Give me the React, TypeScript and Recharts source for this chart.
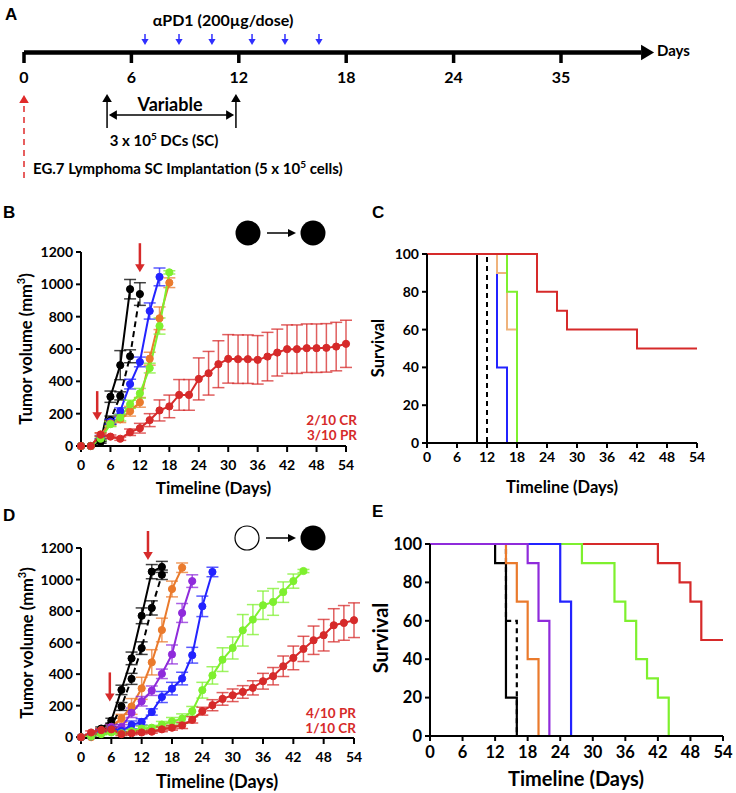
import React from 'react';
import { LineChart, Line, XAxis, YAxis, ErrorBar, ReferenceLine, ReferenceDot } from 'recharts';

const FONT = 'Lato, "Open Sans", sans-serif';
const LETTER_FONT = '"Liberation Sans", Arial, sans-serif';

const BLACK = '#000000';
const BLUE = '#2323ff';
const ORANGE = '#ea7a2c';
const TAN = '#efb37c';
const GREEN = '#7ef02e';
const RED = '#d62a2a';
const PURPLE = '#8f2bdb';
const PD1_BLUE = '#2f2fff';

// ---- A: schedule ----
const scheduleTicks = [0, 6, 12, 18, 24, 30];
const scheduleLabels = ['0', '6', '12', '18', '24', '35'];
const pd1Days = [6.76, 8.66, 10.5, 12.74, 14.58, 16.48];
const dcDays = [4.64, 11.84];
const timelineDays = [0, 34.47];

// ---- shared axes ----
const dayTicks = [0, 6, 12, 18, 24, 30, 36, 42, 48, 54];
const volumeTicks = [0, 200, 400, 600, 800, 1000, 1200];
const survivalTicks = [0, 20, 40, 60, 80, 100];
const days = [0, 2, 4, 6, 8, 10, 12, 14, 16, 18, 20, 22, 24, 26, 28, 30, 32, 34, 36, 38, 40, 42, 44, 46, 48, 50, 52, 54];

// ---- B: tumor volume ----
const bBlack = [0, 0, 25, 305, 500, 970];
const bBlackErr = [0, 0, 8, 35, 90, 60];
const bDash = [0, 0, 35, 160, 310, 555, 940];
const bDashErr = [0, 0, 8, 25, 25, 40, 70];
const bBlue = [0, 0, 55, 150, 216, 383, 520, 835, 1046];
const bBlueErr = [0, 0, 10, 15, 20, 30, 30, 50, 55];
const bOrange = [0, 0, 72, 140, 165, 215, 270, 540, 790, 1010];
const bOrangeErr = [0, 0, 10, 15, 20, 30, 30, 40, 70, 30];
const bGreen = [0, 0, 45, 135, 175, 258, 326, 482, 742, 1074];
const bGreenErr = [0, 0, 10, 15, 20, 25, 30, 30, 50, 10];
const bRed = [0, 0, 70, 58, 45, 85, 110, 160, 220, 245, 316, 316, 415, 450, 506, 539, 537, 537, 533, 553, 578, 599, 599, 605, 605, 607, 615, 632];
const bRedErr = [0, 0, 10, 10, 10, 20, 30, 40, 65, 70, 95, 95, 130, 135, 145, 150, 150, 150, 150, 150, 145, 150, 150, 150, 150, 150, 150, 146];
const bArrows = [[3.3, 160], [12, 1075]];

// ---- C: survival ----
const cBlackDays = [0, 10];
const cBlackSurv = [100, 0];
const cDashDays = [0, 12];
const cDashSurv = [100, 0];
const cBlueDays = [0, 14, 16];
const cBlueSurv = [100, 40, 0];
const cTanDays = [0, 14, 16, 18];
const cTanSurv = [100, 90, 60, 0];
const cGreenDays = [0, 16, 18];
const cGreenSurv = [100, 80, 0];
const cRedDays = [0, 22, 26, 28, 42, 54];
const cRedSurv = [100, 80, 70, 60, 50, 50];

// ---- D: tumor volume ----
const dBlack = [0, 10, 55, 105, 300, 500, 770, 1050, 1080];
const dBlackErr = [0, 5, 10, 15, 30, 40, 50, 45, 35];
const dDash = [0, 5, 40, 70, 195, 370, 565, 820, 1030];
const dDashErr = [0, 5, 10, 15, 25, 35, 40, 45, 30];
const dOrange = [0, 0, 45, 65, 120, 195, 310, 475, 680, 940, 1075];
const dOrangeErr = [0, 5, 10, 15, 25, 50, 70, 80, 75, 50, 30];
const dPurple = [0, 10, 40, 65, 65, 155, 228, 295, 402, 525, 788, 990];
const dPurpleErr = [0, 5, 10, 15, 15, 30, 30, 30, 30, 60, 60, 40];
const dBlue = [0, 5, 30, 50, 40, 78, 97, 160, 255, 308, 372, 520, 830, 1048];
const dBlueErr = [0, 5, 10, 10, 10, 25, 20, 20, 35, 40, 40, 50, 65, 30];
const dGreen = [0, 5, 20, 30, 25, 38, 55, 60, 80, 100, 118, 165, 298, 392, 492, 566, 678, 746, 837, 858, 920, 990, 1054];
const dGreenErr = [0, 5, 5, 10, 10, 10, 15, 15, 20, 25, 30, 30, 50, 55, 75, 70, 100, 95, 90, 85, 65, 45, 10];
const dRed = [0, 30, 45, 50, 20, 25, 30, 35, 50, 60, 75, 110, 165, 203, 243, 266, 287, 313, 355, 387, 450, 503, 560, 615, 647, 710, 725, 742];
const dRedErr = [0, 10, 10, 10, 10, 10, 10, 10, 15, 15, 20, 20, 25, 35, 40, 40, 40, 45, 50, 55, 65, 75, 80, 90, 100, 105, 110, 110];
const dArrows = [[5.7, 227], [13.25, 1124]];

// ---- E: survival ----
const eBlackDays = [0, 12, 14, 16];
const eBlackSurv = [100, 90, 20, 0];
const eDashDays = [0, 14, 16];
const eDashSurv = [100, 60, 0];
const eOrangeDays = [0, 14, 16, 18, 20];
const eOrangeSurv = [100, 90, 70, 40, 0];
const ePurpleDays = [0, 18, 20, 22];
const ePurpleSurv = [100, 90, 60, 0];
const eBlueDays = [0, 24, 26];
const eBlueSurv = [100, 70, 0];
const eGreenDays = [0, 28, 34, 36, 38, 40, 42, 44];
const eGreenSurv = [100, 90, 70, 60, 40, 30, 20, 0];
const eRedDays = [0, 42, 46, 48, 50, 54];
const eRedSurv = [100, 90, 80, 70, 50, 50];

const toPoints = (x: number[], y: number[], err?: number[]) =>
  y.map((v, i) => ({ d: x[i], v, e: err ? err[i] : 0 }));

type Growth = { vals: number[]; errs: number[]; color: string; dashed?: boolean };
type Step = { x: number[]; y: number[]; color: string; dashed?: boolean };

function arrowShape(dir: string, len: number, color: string, w = 2, head = 7, dash?: string) {
  return (p: any) => {
    const { cx, cy } = p;
    const hw = head * 0.6;
    let l = [0, 0, 0, 0];
    let tri = '';
    if (dir === 'down') {
      l = [cx, cy - len, cx, cy - head + 1];
      tri = `${cx - hw},${cy - head} ${cx + hw},${cy - head} ${cx},${cy}`;
    } else if (dir === 'up') {
      l = [cx, cy + len, cx, cy + head - 1];
      tri = `${cx - hw},${cy + head} ${cx + hw},${cy + head} ${cx},${cy}`;
    } else if (dir === 'right') {
      l = [cx - len, cy, cx - head + 1, cy];
      tri = `${cx - head},${cy - hw} ${cx - head},${cy + hw} ${cx},${cy}`;
    } else {
      l = [cx + len, cy, cx + head - 1, cy];
      tri = `${cx + head},${cy - hw} ${cx + head},${cy + hw} ${cx},${cy}`;
    }
    return (
      <g>
        {len > head && <line x1={l[0]} y1={l[1]} x2={l[2]} y2={l[3]} stroke={color} strokeWidth={w} strokeDasharray={dash} />}
        <polygon points={tri} fill={color} />
      </g>
    );
  };
}

const axisStyle = { stroke: '#000', strokeWidth: 2 };
const tickFont = (size: number) => ({ fontFamily: FONT, fontWeight: 700, fontSize: size, fill: '#000' });

function ScheduleChart() {
  const label = (t: string) => (p: any) => (
    <text x={p.cx} y={p.cy} textAnchor="middle" fontFamily={FONT} fontWeight={700} fontSize={16} fill="#000">{t}</text>
  );
  const lineY = 52.5;
  return (
    <div style={{ position: 'absolute', left: 0, top: 0 }}>
      <LineChart width={736} height={195} margin={{ top: 0, right: 67.6, bottom: 0, left: 24 }}>
        <XAxis type="number" dataKey="d" domain={[0, 36]} hide height={0} />
        <YAxis type="number" domain={[0, 195]} reversed hide width={0} />
        <Line data={timelineDays.map((d) => ({ d, v: lineY }))} dataKey="v" stroke="#000" strokeWidth={4.5}
          dot={false} activeDot={false} isAnimationActive={false} />
        <ReferenceDot x={35.2} y={lineY} r={0} ifOverflow="visible" shape={arrowShape('right', 0, '#000', 0, 13)} />
        {scheduleTicks.map((t) => (
          <ReferenceLine key={'t' + t} segment={[{ x: t, y: 52 }, { x: t, y: 63 }]} stroke="#000" strokeWidth={3.5} />
        ))}
        {scheduleTicks.map((t, i) => (
          <ReferenceDot key={'l' + t} x={t} y={83} r={0} shape={label(scheduleLabels[i])} />
        ))}
        {pd1Days.map((d) => (
          <ReferenceDot key={'p' + d} x={d} y={45} r={0} shape={arrowShape('down', 11, PD1_BLUE, 1.5, 6)} />
        ))}
        <ReferenceDot x={0} y={95} r={0} ifOverflow="visible" shape={arrowShape('up', 83, '#e02a2a', 1.5, 8, '6 5')} />
        {dcDays.map((d) => (
          <ReferenceDot key={'dc' + d} x={d} y={94} r={0} shape={arrowShape('up', 34, '#000', 1.5, 8)} />
        ))}
        <ReferenceLine segment={[{ x: dcDays[0] + 0.2, y: 115 }, { x: dcDays[1] - 0.2, y: 115 }]} stroke="#000" strokeWidth={1.5} />
        <ReferenceDot x={dcDays[0] + 0.1} y={115} r={0} shape={arrowShape('left', 0, '#000', 0, 8)} />
        <ReferenceDot x={dcDays[1] - 0.1} y={115} r={0} shape={arrowShape('right', 0, '#000', 0, 8)} />
      </LineChart>
    </div>
  );
}

function GrowthChart(props: {
  box: number[]; margin: any; yWidth: number; xHeight: number; series: Growth[];
  arrows: number[][]; font: number; xMargin: number;
}) {
  const { box, margin, yWidth, xHeight, series, arrows, font, xMargin } = props;
  return (
    <div style={{ position: 'absolute', left: box[0], top: box[1] }}>
      <LineChart width={box[2]} height={box[3]} margin={margin}>
        <XAxis type="number" dataKey="d" domain={[0, 54]} ticks={dayTicks} interval={0} height={xHeight}
          tickSize={6} tickMargin={xMargin} axisLine={axisStyle} tickLine={axisStyle} tick={tickFont(font)} />
        <YAxis type="number" domain={[0, 1200]} ticks={volumeTicks} interval={0} width={yWidth}
          tickSize={5} tickMargin={3} axisLine={axisStyle} tickLine={axisStyle} tick={tickFont(font)} />
        {series.map((s, i) => (
          <Line key={i} data={toPoints(days, s.vals, s.errs)} dataKey="v" stroke={s.color} strokeWidth={2}
            strokeDasharray={s.dashed ? '6 4' : undefined}
            dot={{ r: 3.6, fill: s.color, stroke: s.color, strokeWidth: 1, strokeDasharray: '0' }}
            activeDot={false} isAnimationActive={false}>
            <ErrorBar dataKey="e" direction="y" width={6} stroke={s.color} strokeWidth={1.5} strokeOpacity={0.75} />
          </Line>
        ))}
        {arrows.map((a, i) => (
          <ReferenceDot key={'a' + i} x={a[0]} y={a[1]} r={0} ifOverflow="visible"
            shape={arrowShape('down', 29, RED, 2.5, 8)} />
        ))}
      </LineChart>
    </div>
  );
}

function SurvivalChart(props: {
  box: number[]; margin: any; yWidth: number; xHeight: number; series: Step[];
  font: number; xMargin: number; lineWidth: number;
}) {
  const { box, margin, yWidth, xHeight, series, font, xMargin, lineWidth } = props;
  return (
    <div style={{ position: 'absolute', left: box[0], top: box[1] }}>
      <LineChart width={box[2]} height={box[3]} margin={margin}>
        <XAxis type="number" dataKey="d" domain={[0, 54]} ticks={dayTicks} interval={0} height={xHeight}
          tickSize={5} tickMargin={xMargin} axisLine={axisStyle} tickLine={axisStyle} tick={tickFont(font)} />
        <YAxis type="number" domain={[0, 100]} ticks={survivalTicks} interval={0} width={yWidth}
          tickSize={5} tickMargin={3} axisLine={axisStyle} tickLine={axisStyle} tick={tickFont(font)} />
        {series.map((s, i) => (
          <Line key={i} type="stepAfter" data={toPoints(s.x, s.y)} dataKey="v" stroke={s.color}
            strokeWidth={lineWidth} strokeDasharray={s.dashed ? '5 4' : undefined}
            dot={false} activeDot={false} isAnimationActive={false} />
        ))}
      </LineChart>
    </div>
  );
}

const seriesB: Growth[] = [
  { vals: bBlack, errs: bBlackErr, color: BLACK },
  { vals: bDash, errs: bDashErr, color: BLACK, dashed: true },
  { vals: bBlue, errs: bBlueErr, color: BLUE },
  { vals: bOrange, errs: bOrangeErr, color: ORANGE },
  { vals: bGreen, errs: bGreenErr, color: GREEN },
  { vals: bRed, errs: bRedErr, color: RED },
];

const seriesD: Growth[] = [
  { vals: dBlack, errs: dBlackErr, color: BLACK },
  { vals: dDash, errs: dDashErr, color: BLACK, dashed: true },
  { vals: dOrange, errs: dOrangeErr, color: ORANGE },
  { vals: dPurple, errs: dPurpleErr, color: PURPLE },
  { vals: dBlue, errs: dBlueErr, color: BLUE },
  { vals: dGreen, errs: dGreenErr, color: GREEN },
  { vals: dRed, errs: dRedErr, color: RED },
];

const seriesC: Step[] = [
  { x: cBlackDays, y: cBlackSurv, color: BLACK },
  { x: cDashDays, y: cDashSurv, color: BLACK, dashed: true },
  { x: cBlueDays, y: cBlueSurv, color: BLUE },
  { x: cTanDays, y: cTanSurv, color: TAN },
  { x: cGreenDays, y: cGreenSurv, color: GREEN },
  { x: cRedDays, y: cRedSurv, color: RED },
];

const seriesE: Step[] = [
  { x: eBlackDays, y: eBlackSurv, color: BLACK },
  { x: eDashDays, y: eDashSurv, color: BLACK, dashed: true },
  { x: eOrangeDays, y: eOrangeSurv, color: ORANGE },
  { x: eRedDays, y: eRedSurv, color: RED },
  { x: eGreenDays, y: eGreenSurv, color: GREEN },
  { x: eBlueDays, y: eBlueSurv, color: BLUE },
  { x: ePurpleDays, y: ePurpleSurv, color: PURPLE },
];

function Txt(p: any) {
  return <text fontFamily={FONT} fontWeight={700} fill="#000" {...p} />;
}

function Overlay() {
  const letter = { fontFamily: LETTER_FONT, fontWeight: 700, fontSize: 17, fill: '#000' };
  const yTitle = (cx: number, cy: number, size: number, content: any) => (
    <Txt x={cx} y={cy} fontSize={size} textAnchor="middle" dominantBaseline="central" transform={`rotate(-90 ${cx} ${cy})`}>{content}</Txt>
  );
  const volume = [
    'Tumor volume (mm',
    <tspan key="s" dy={-6} fontSize={11}>3</tspan>,
    <tspan key="e" dy={6}>)</tspan>,
  ];
  return (
    <svg width={736} height={793} style={{ position: 'absolute', left: 0, top: 0, pointerEvents: 'none' }}>
      <text x={5} y={20} {...letter}>A</text>
      <text x={3} y={218} {...letter}>B</text>
      <text x={372} y={218} {...letter}>C</text>
      <text x={3} y={521} {...letter}>D</text>
      <text x={372} y={517} {...letter}>E</text>

      <Txt x={223} y={26} fontSize={16} textAnchor="middle">αPD1 (200µg/dose)</Txt>
      <Txt x={657} y={56} fontSize={15}>Days</Txt>
      <Txt x={170} y={111} fontSize={18} textAnchor="middle">Variable</Txt>
      <Txt x={164} y={146} fontSize={15} textAnchor="middle">
        3 x 10<tspan dy={-6} fontSize={10}>5</tspan><tspan dy={6}> DCs (SC)</tspan>
      </Txt>
      <Txt x={33} y={174} fontSize={15}>
        EG.7 Lymphoma SC Implantation (5 x 10<tspan dy={-6} fontSize={10}>5</tspan><tspan dy={6}> cells)</tspan>
      </Txt>

      {yTitle(26, 349, 16.5, volume)}
      <Txt x={213.5} y={487} fontSize={17} textAnchor="middle" dominantBaseline="central">Timeline (Days)</Txt>
      {yTitle(378, 348, 16.5, 'Survival')}
      <Txt x={562} y={487} fontSize={16.5} textAnchor="middle" dominantBaseline="central">Timeline (Days)</Txt>
      {yTitle(27, 643, 16.5, volume)}
      <Txt x={217} y={781} fontSize={18} textAnchor="middle" dominantBaseline="central">Timeline (Days)</Txt>
      {yTitle(380, 638, 20, 'Survival')}
      <Txt x={576} y={778} fontSize={20} textAnchor="middle" dominantBaseline="central">Timeline (Days)</Txt>

      <circle cx={248} cy={233} r={12.5} fill="#000" />
      <line x1={267} y1={233} x2={289} y2={233} stroke="#000" strokeWidth={1.5} />
      <polygon points="288,229 296,233 288,237" fill="#000" />
      <circle cx={313} cy={233} r={12.5} fill="#000" />
      <circle cx={247} cy={538} r={12} fill="#fff" stroke="#000" strokeWidth={1.2} />
      <line x1={266} y1={538} x2={289} y2={538} stroke="#000" strokeWidth={1.5} />
      <polygon points="288,534 296,538 288,542" fill="#000" />
      <circle cx={313} cy={538} r={12.5} fill="#000" />

      <Txt x={357} y={425} fontSize={13.5} textAnchor="end" fill={RED}>2/10 CR</Txt>
      <Txt x={357} y={440} fontSize={13.5} textAnchor="end" fill={RED}>3/10 PR</Txt>
      <Txt x={356} y={718} fontSize={13.5} textAnchor="end" fill={RED}>4/10 PR</Txt>
      <Txt x={356} y={733} fontSize={13.5} textAnchor="end" fill={RED}>1/10 CR</Txt>
    </svg>
  );
}

export default function App() {
  return (
    <div style={{ position: 'absolute', left: 0, top: 0, width: 736, height: 793, background: '#fff' }}>
      <ScheduleChart />
      <GrowthChart box={[0, 200, 370, 300]} margin={{ top: 52, right: 24, bottom: 24, left: 0 }}
        yWidth={81} xHeight={30} series={seriesB} arrows={bArrows} font={14} xMargin={8} />
      <SurvivalChart box={[360, 200, 376, 300]} margin={{ top: 54, right: 39, bottom: 27, left: 0 }}
        yWidth={67} xHeight={30} series={seriesC} font={14} xMargin={4} lineWidth={2} />
      <GrowthChart box={[0, 490, 370, 303]} margin={{ top: 58, right: 16, bottom: 15, left: 0 }}
        yWidth={81} xHeight={40} series={seriesD} arrows={dArrows} font={14} xMargin={8} />
      <SurvivalChart box={[360, 490, 376, 303]} margin={{ top: 54, right: 13, bottom: 17, left: 0 }}
        yWidth={70} xHeight={40} series={seriesE} font={16.5} xMargin={5} lineWidth={2.2} />
      <Overlay />
    </div>
  );
}
